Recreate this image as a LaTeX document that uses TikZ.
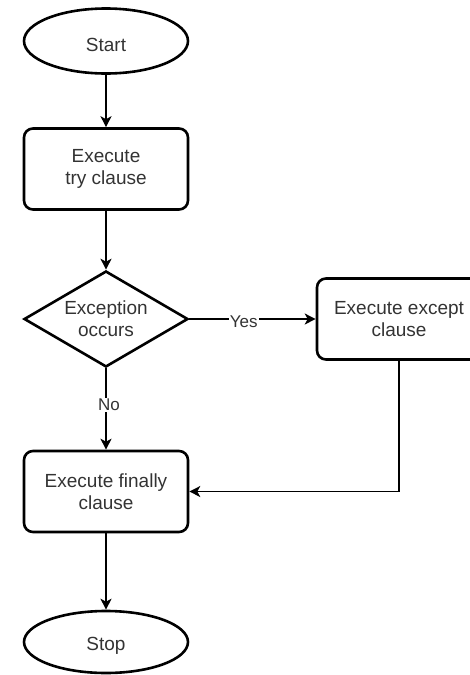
\documentclass[tikz,border=0pt]{standalone}
\usepackage{fontspec}
\setmainfont{Liberation Sans}
\usetikzlibrary{shapes.geometric,arrows.meta}
\definecolor{inkgray}{HTML}{333333}
% invisible strut that lowers node text a little, as in the original flow chart
\newcommand\toppad{\rule{0pt}{20.5pt}}
\begin{document}
\begin{tikzpicture}[x=1pt,y=-1pt,
  every node/.style={font=\fontsize{19}{22}\selectfont, text=inkgray, align=center},
  shapebox/.style={draw=black, line width=2.6pt, inner sep=0pt, execute at begin node=\toppad},
  terminal/.style={shapebox, ellipse, minimum width=164pt, minimum height=65pt},
  process/.style={shapebox, rectangle, rounded corners=9pt, minimum width=164pt, minimum height=81pt},
  decision/.style={shapebox, diamond, minimum width=164pt, minimum height=96pt},
  flow/.style={draw=black, line width=1.3pt, -{Stealth[length=11pt,width=11pt,inset=3pt]}},
  edgelabel/.style={fill=white, inner sep=1pt, font=\fontsize{17}{20}\selectfont}
]
\useasboundingbox (0,0) rectangle (470,675);
\clip (0,0) rectangle (470,675);

% shapes
\node[terminal] (start) at (106,41) {Start};
\node[process] (try) at (106,169) {Execute\\try clause};
\node[decision] (dec) at (106,319) {};
\node[shapebox, draw=none] (dectext) at (dec) {Exception\\occurs};
\node[process] (except) at (399,319) {Execute except\\clause};
\node[process] (finally) at (106,491.5) {Execute finally\\clause};
\node[terminal, minimum height=62pt] (stop) at (106,642) {Stop};

% connectors
\draw[flow] (start) -- (try);
\draw[flow] (try) -- (dec);
\draw[flow] (dec.east) -- node[edgelabel, pos=0.43, yshift=-3pt] {Yes} (except.west);
\draw[flow] (dec.south) -- node[edgelabel, pos=0.45, xshift=3pt] {No} (finally.north);
\draw[flow] (except.south) |- (finally.east);
\draw[flow] (finally) -- (stop);
\end{tikzpicture}
\end{document}
